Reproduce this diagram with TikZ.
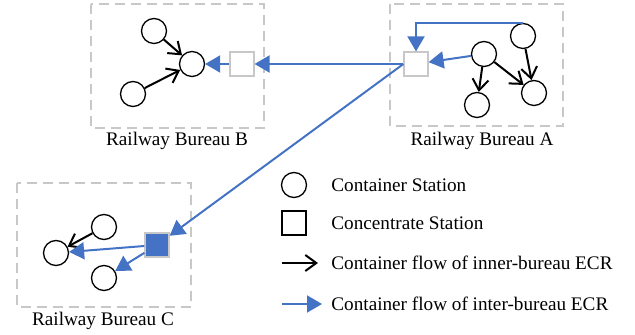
\documentclass[tikz,border=0pt]{standalone}
\usepackage{fontspec}
\setmainfont{Liberation Serif}
\usetikzlibrary{positioning,arrows.meta}
\definecolor{ecrblue}{HTML}{4472C4}
\definecolor{boxgray}{HTML}{C8C8C8}
\tikzset{
	station/.style={circle, draw, line width=0.65pt, minimum size=12.5pt, inner sep=0pt}, % container station
	hub/.style={rectangle, draw=boxgray, fill=white, line width=0.6pt, minimum size=12pt, inner sep=0pt}, % concentrate station
	bureau/.style={draw=boxgray, line width=0.65pt, dash pattern=on 5pt off 3pt},
	inner flow/.style={-{Straight Barb[length=5.5pt,width=8pt]}, line width=1pt},
	inter flow/.style={-{Triangle[length=7.5pt,width=8.5pt]}, ecrblue, line width=1pt},
	lbl/.style={font=\fontsize{9.6}{11}\selectfont, inner sep=0pt}
}
\begin{document}
\begin{tikzpicture}[x=0.5pt,y=-0.5pt]
            \useasboundingbox (0,0) rectangle (635,335);
            % bureaus
            \draw[bureau] (91,4) rectangle (264,128);
            \draw[bureau] (390,4) rectangle (563,126);
            \draw[bureau] (17,183) rectangle (191,307);
            \node[lbl] (labB) at (177,141) {Railway Bureau B};
            \node[lbl] (labA) at (482,141) {Railway Bureau A};
            \node[lbl] (labC) at (103,321) {Railway Bureau C};
            % bureau B
            \node[station] (b1) at (154,31) {};
            \node[station] (b2) at (133,94) {};
            \node[station] (b3) at (192,64) {};
            \node[hub] (hubB) at (242,64) {};
            % bureau A
            \node[hub] (hubA) at (416,64) {};
            \node[station] (a1) at (484,54) {};
            \node[station] (a2) at (523,36) {};
            \node[station] (a3) at (477,105) {};
            \node[station] (a4) at (534,93) {};
            % bureau C
            \node[hub,fill=ecrblue] (hubC) at (157,245) {};
            \node[station] (c1) at (104,227) {};
            \node[station] (c2) at (56,253) {};
            \node[station] (c3) at (104,278) {};
            % inner-bureau flows
            \draw[inner flow] (b1) -- (b3);
            \draw[inner flow] (b2) -- (b3);
            \draw[inner flow] (a1) -- (a3);
            \draw[inner flow] (a1) -- (a4);
            \draw[inner flow] (a2) -- (a4);
            \draw[inner flow] (c1) -- (c2);
            % inter-bureau flows
            \draw[inter flow] (a2.north) -- (a2.north -| hubA) -- (hubA);
            \draw[inter flow] (a1) -- (hubA);
            \draw[inter flow] (hubA.west) -- (hubB);
            \draw[inter flow] (hubB) -- (b3);
            \draw[inter flow] (hubA.west) -- (hubC);
            \draw[inter flow] (hubC) -- (c2);
            \draw[inter flow] (hubC) -- (c3);
            % legend
            \node[station] (legStation) at (294,185) {};
            \node[hub,draw=black] (legHub) at (294,223) {};
            \coordinate (legInS) at (282,263);
            \coordinate (legInE) at (318,263);
            \coordinate (legExS) at (282,304);
            \coordinate (legExE) at (322,304);
            \draw[inner flow] (legInS) -- (legInE);
            \draw[inter flow] (legExS) -- (legExE);
            \node[lbl,anchor=west] (txtStation) at (331,185) {Container Station};
            \node[lbl,anchor=west] (txtHub) at (331,223) {Concentrate Station};
            \node[lbl,anchor=west] (txtIn) at (331,263) {Container flow of inner-bureau ECR};
            \node[lbl,anchor=west] (txtEx) at (331,304) {Container flow of inter-bureau ECR};
\end{tikzpicture}
\end{document}
